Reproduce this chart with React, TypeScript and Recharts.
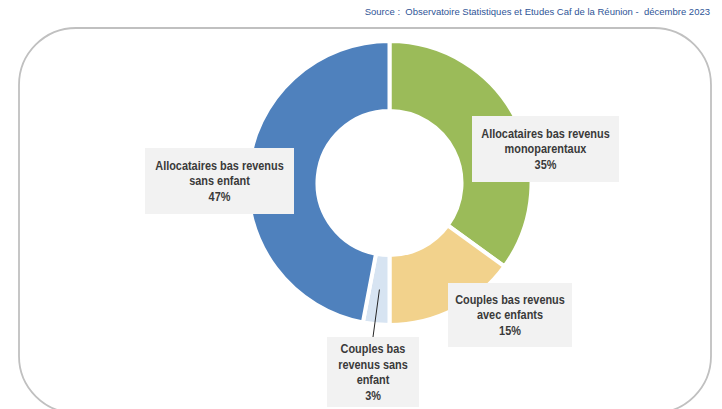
import React from "react";
import { PieChart, Pie, Cell } from "recharts";

const categories = [
  "Allocataires bas revenus monoparentaux",
  "Couples bas revenus avec enfants",
  "Couples bas revenus sans enfant",
  "Allocataires bas revenus sans enfant",
];
const values = [35, 15, 3, 47];
const labelLines = [
  ["Allocataires bas revenus", "monoparentaux", "35%"],
  ["Couples bas revenus", "avec enfants", "15%"],
  ["Couples bas", "revenus sans", "enfant", "3%"],
  ["Allocataires bas revenus", "sans enfant", "47%"],
];
const colors = ["#9BBB59", "#F2D28C", "#D7E4F2", "#4F81BD"];

// layout of label boxes (x, y, w, h) and optional leader line
const boxes = [
  { x: 472, y: 116, w: 147, h: 66, leader: false },
  { x: 448, y: 283, w: 124, h: 64, leader: false },
  { x: 327, y: 337, w: 92, h: 70, leader: true },
  { x: 145, y: 148, w: 149, h: 66, leader: false },
];

const data = categories.map((name, i) => ({ name, value: values[i] }));

const FONT = "'Liberation Sans', Arial, sans-serif";
const SQUEEZE = 0.82;

const renderLabel = (props: any) => {
  const { index, cx, cy, midAngle, innerRadius, outerRadius } = props;
  const b = boxes[index];
  const lines = labelLines[index];
  const lh = 15.5;
  const total = lh * (lines.length - 1);
  const cxBox = b.x + b.w / 2;
  const cyBox = b.y + b.h / 2;
  const RAD = Math.PI / 180;
  const r = (innerRadius + outerRadius) / 2;
  const sx = cx + r * Math.cos(-midAngle * RAD);
  const sy = cy + r * Math.sin(-midAngle * RAD);
  return (
    <g key={`lab-${index}`}>
      {b.leader && (
        <line x1={sx} y1={sy} x2={cxBox} y2={b.y} stroke="#262626" strokeWidth={1} />
      )}
      <rect x={b.x} y={b.y} width={b.w} height={b.h} fill="#F2F2F2" />
      <g transform={`translate(${cxBox},0) scale(${SQUEEZE},1)`}>
        {lines.map((t, i) => (
          <text
            key={i}
            x={0}
            y={cyBox - total / 2 + i * lh}
            textAnchor="middle"
            dominantBaseline="central"
            fontFamily={FONT}
            fontWeight="bold"
            fontSize={13.3}
            fill="#3A3A3A"
          >
            {t}
          </text>
        ))}
      </g>
    </g>
  );
};

export default function App() {
  return (
    <div style={{ position: "fixed", left: 0, top: 0, width: 722, height: 409, background: "#fff" }}>
      <svg width={722} height={409} style={{ position: "absolute", left: 0, top: 0 }}>
        <rect x={19} y={28} width={692} height={385} rx={57} ry={57} fill="none" stroke="#C0C0C0" strokeWidth={1.8} />
        <text
          x={710}
          y={15}
          textAnchor="end"
          fontFamily="'Liberation Sans', Arial, sans-serif"
          fontSize={9.5}
          fill="#2F5597"
          style={{ whiteSpace: "pre" }}
        >
          {"Source :  Observatoire Statistiques et Etudes Caf de la Réunion -  décembre 2023"}
        </text>
      </svg>
      <div style={{ position: "absolute", left: 0, top: 0 }}>
        <PieChart width={722} height={409}>
          <Pie
            data={data}
            dataKey="value"
            nameKey="name"
            cx={384.5}
            cy={178}
            innerRadius={72}
            outerRadius={142}
            startAngle={90}
            endAngle={-270}
            stroke="#FFFFFF"
            strokeWidth={4}
            label={renderLabel}
            labelLine={false}
            isAnimationActive={false}
          >
            {data.map((d, i) => (
              <Cell key={d.name} fill={colors[i]} />
            ))}
          </Pie>
        </PieChart>
      </div>
    </div>
  );
}
